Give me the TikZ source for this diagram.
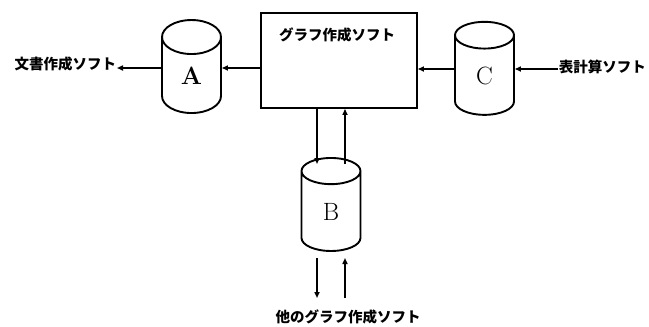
\documentclass[tikz,border=0pt]{standalone}
\usepackage{fontspec}
\newfontfamily\jp{Noto Sans CJK JP}
\usetikzlibrary{shapes.geometric,arrows.meta}
\begin{document}
\begin{tikzpicture}[x=1pt,y=-1pt,
  line width=1.9pt,
  arr/.style={-{Triangle[length=6pt,width=5pt]}},
  cyl/.style={draw,line width=1.9pt,cylinder,shape border rotate=90,aspect=1.6,
    minimum width=59pt,minimum height=93pt,inner sep=0pt,
    font=\fontsize{25}{25}\selectfont},
  jtext/.style={font=\jp\bfseries\fontsize{14.5}{15}\selectfont,inner sep=0pt},
  boxnode/.style={draw,minimum width=156pt,minimum height=95pt,inner sep=0pt}]
\useasboundingbox (0,0) rectangle (649,327);

% main program box and its title
\node[boxnode] (G) at (339,60.5) {};
\node[jtext] (Gt) at (337,35) {グラフ作成ソフト};

% the three data stores
\node[cyl] (A) at (191.5,75.5) {\raisebox{-4pt}{\bfseries A}};
\node[cyl] (C) at (484.5,75.5) {\raisebox{-1pt}{C}};
\node[cyl] (B) at (331,211.5) {\raisebox{-2pt}{B}};

% outside programs
\node[jtext,anchor=east] (wp) at (117,64) {文書作成ソフト};
\node[jtext,anchor=west] (ss) at (558,67) {表計算ソフト};
\node[jtext] (og) at (348,317) {他のグラフ作成ソフト};
\coordinate (outB) at (317,298);
\coordinate (inB) at (345,298);

% data flow
\draw[arr] (G.west |- 0,68) -- (A.east |- 0,68);
\draw[arr] (A.west |- 0,68) -- (wp.east |- 0,68);
\draw[arr] (C.west |- 0,69) -- (G.east |- 0,69);
\draw[arr] (ss.west |- 0,69) -- (C.east |- 0,69);
\draw[arr] (G.south -| outB) -- (outB |- 0,164);
\draw[arr] (inB |- 0,164) -- (G.south -| inB);
\draw[arr] (outB |- 0,258) -- (outB);
\draw[arr] (inB) -- (inB |- 0,258);
\end{tikzpicture}
\end{document}
